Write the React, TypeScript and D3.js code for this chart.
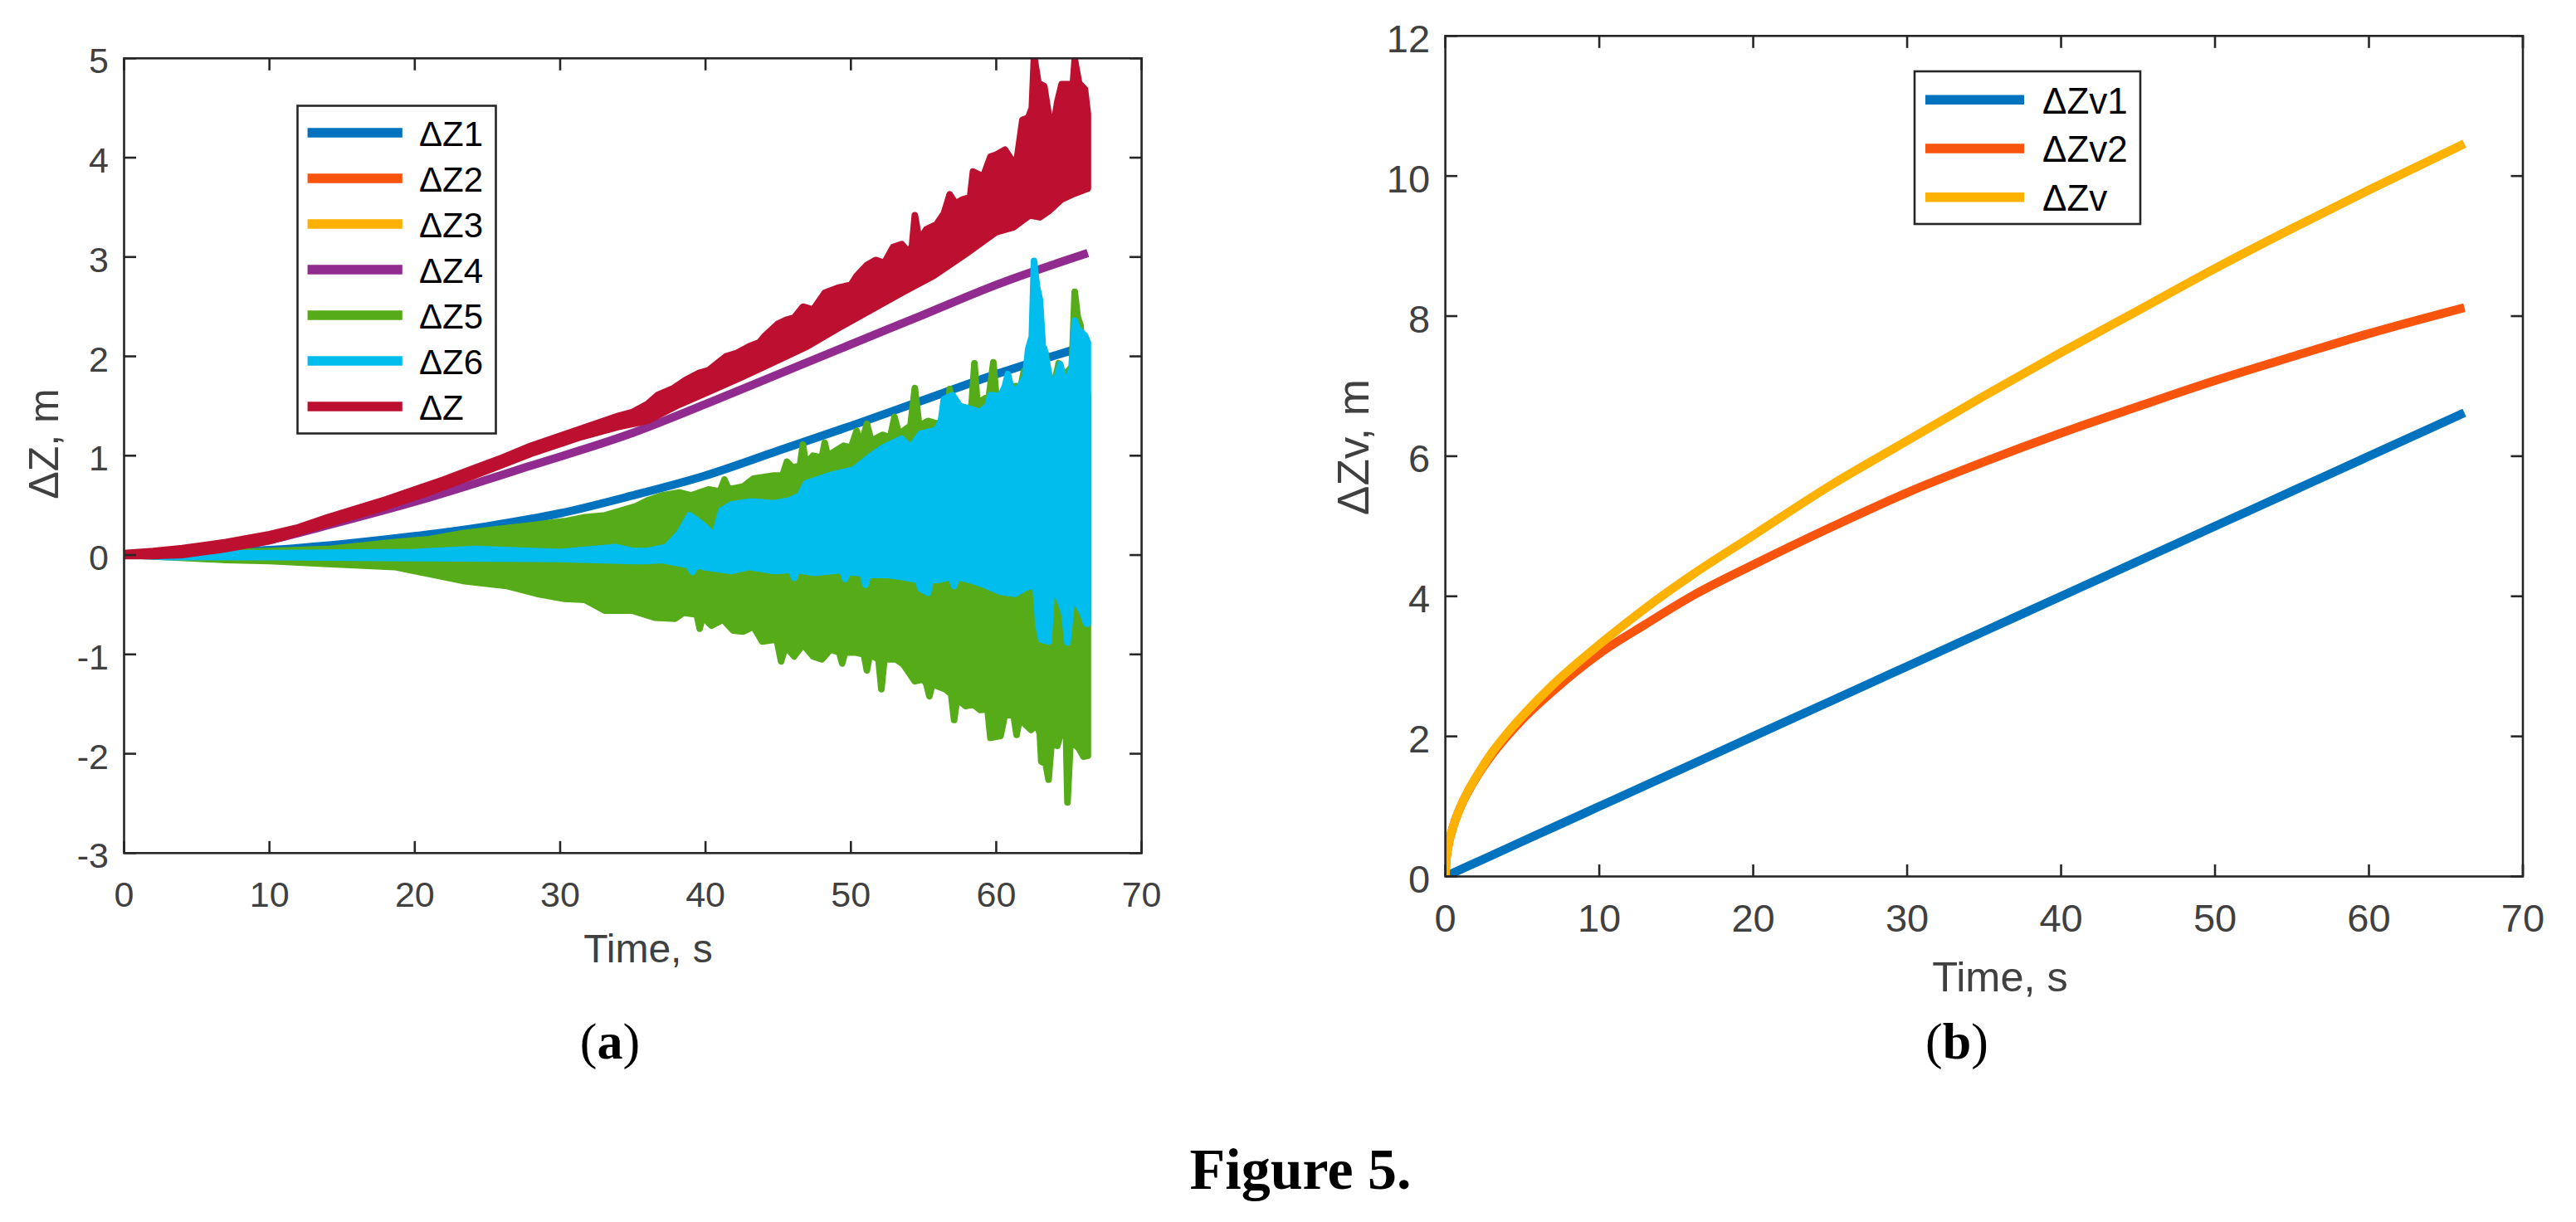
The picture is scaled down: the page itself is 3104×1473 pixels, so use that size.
import React from "react";
import * as d3 from "d3";

// ---------- DATA ----------
// (a) smooth series
const dz1T = [0, 5, 10, 15, 20, 25, 30, 35, 40, 45, 50, 55, 60, 66.3];
const dz1V = [0, 0.02, 0.05, 0.11, 0.19, 0.29, 0.42, 0.6, 0.8, 1.05, 1.3, 1.56, 1.82, 2.11];
const dz2T = [0, 66.3];
const dz2V = [0, 0];
const dz3T = [0, 66.3];
const dz3V = [0, 0];
const dz4T = [0, 5, 10, 14, 21, 28, 35, 40, 45, 50, 55, 60, 66.3];
const dz4V = [0, 0.04, 0.15, 0.3, 0.58, 0.9, 1.23, 1.52, 1.82, 2.12, 2.42, 2.72, 3.04];

// (a) noisy series: upper / lower envelopes [time, value]
const dz5Hi: [number, number][] = [[0,0],[3,0.01],[7,0.03],[10,0.04],[14,0.06],[18.6,0.13],[21,0.16],[23.3,0.22],[25.6,0.26],[28,0.3],[30.3,0.34],[31.7,0.38],[33.1,0.4],[35.2,0.49],[36,0.55],[37,0.6],[38.2,0.63],[39,0.6],[40.2,0.66],[41,0.64],[41.3,0.76],[41.6,0.66],[42.6,0.69],[43.3,0.77],[44.7,0.8],[45.3,0.8],[45.6,0.94],[46.0,0.88],[46.5,0.9],[46.7,1.11],[46.9,0.92],[47.4,1.0],[48.0,0.98],[48.2,1.13],[48.4,1.0],[49.5,1.1],[50.0,1.08],[50.4,1.25],[50.7,1.1],[51.1,1.32],[51.4,1.15],[52.2,1.21],[52.7,1.18],[53.0,1.39],[53.3,1.22],[54.1,1.3],[54.4,1.68],[54.7,1.3],[55.3,1.35],[56.0,1.32],[56.6,1.4],[56.8,1.67],[57.0,1.45],[58.0,1.47],[58.3,1.5],[58.5,1.93],[58.7,1.53],[59.5,1.6],[59.8,1.94],[60.0,1.6],[60.7,1.56],[61.3,1.7],[61.7,1.7],[61.9,1.85],[62.4,1.75],[63.0,1.8],[63.2,1.75],[63.4,2.03],[63.6,1.75],[64.1,1.8],[64.3,1.93],[64.5,1.8],[65.0,1.86],[65.2,1.9],[65.4,2.65],[65.6,2.4],[65.8,2.31],[66.0,1.9],[66.3,1.6]];
const dz5Lo: [number, number][] = [[0,0],[3,-0.02],[7,-0.05],[10,-0.06],[14,-0.09],[18.6,-0.12],[21,-0.19],[23.3,-0.26],[26.3,-0.31],[28.4,-0.39],[30.3,-0.44],[31.7,-0.45],[33.1,-0.56],[35,-0.56],[36.5,-0.63],[37.9,-0.64],[38.5,-0.58],[39.4,-0.6],[39.6,-0.74],[39.8,-0.62],[40.4,-0.71],[41.2,-0.65],[41.9,-0.76],[42.6,-0.77],[43.3,-0.72],[43.9,-0.87],[44.9,-0.85],[45.2,-1.07],[45.5,-0.92],[46.1,-1.02],[46.7,-0.9],[47.4,-1.02],[48.0,-1.05],[48.6,-0.95],[49.2,-0.98],[49.4,-1.09],[49.6,-0.98],[50.3,-0.98],[50.9,-1.0],[51.1,-1.16],[51.3,-1.0],[51.9,-1.05],[52.1,-1.35],[52.3,-1.05],[53.1,-1.05],[53.6,-1.1],[54.4,-1.27],[55.0,-1.25],[55.2,-1.3],[55.4,-1.42],[55.6,-1.3],[56.5,-1.35],[56.9,-1.4],[57.1,-1.66],[57.3,-1.45],[57.9,-1.52],[58.4,-1.5],[58.9,-1.56],[59.4,-1.55],[59.6,-1.84],[60.3,-1.82],[60.6,-1.6],[61.2,-1.62],[61.4,-1.81],[61.6,-1.65],[62.4,-1.76],[62.8,-1.7],[63.0,-1.8],[63.1,-2.08],[63.4,-2.1],[63.6,-2.26],[63.8,-1.9],[64.2,-1.92],[64.6,-1.7],[64.8,-1.8],[64.9,-2.49],[65.1,-1.9],[65.3,-1.89],[65.7,-1.95],[66.0,-2.03],[66.3,-2.02]];
const dz6Hi: [number, number][] = [[0,0],[3,0.02],[10,0.02],[20,0.03],[24.2,0.06],[30,0.03],[33.8,0.08],[35,0.04],[36,0.04],[37.3,0.08],[38.2,0.22],[38.9,0.4],[39.4,0.35],[40.0,0.28],[40.6,0.19],[41.1,0.45],[41.8,0.51],[43.2,0.54],[44.7,0.52],[45.8,0.55],[46.5,0.6],[46.9,0.72],[48.5,0.8],[50.2,0.86],[51.3,0.99],[52.2,1.08],[53.5,1.17],[54.1,1.08],[54.8,1.22],[55.9,1.26],[56.2,1.35],[56.4,1.57],[57.0,1.61],[57.5,1.5],[58.9,1.44],[59.4,1.5],[59.6,1.61],[60.3,1.6],[60.6,1.7],[60.8,1.82],[61.0,1.7],[61.4,1.64],[62.0,1.8],[62.2,2.07],[62.45,2.2],[62.6,2.96],[62.8,2.7],[63.0,2.57],[63.2,2.1],[63.3,2.08],[63.9,1.61],[64.2,1.8],[64.4,1.92],[64.7,1.75],[65.0,1.78],[65.2,1.9],[65.4,2.36],[65.6,2.28],[65.8,2.25],[66.1,2.21],[66.3,2.14]];
const dz6Lo: [number, number][] = [[0,0],[3,-0.02],[10,-0.02],[20,-0.03],[30,-0.04],[35,-0.06],[36,-0.06],[37,-0.05],[38.8,-0.1],[39.1,-0.17],[39.4,-0.1],[39.9,-0.12],[41.8,-0.16],[43,-0.12],[44.7,-0.16],[45.9,-0.15],[46.1,-0.23],[46.3,-0.15],[47.5,-0.18],[49.4,-0.15],[49.6,-0.24],[49.8,-0.16],[50.3,-0.18],[50.8,-0.18],[51.0,-0.3],[51.2,-0.2],[52.5,-0.2],[53.5,-0.22],[54.6,-0.25],[54.8,-0.34],[55.3,-0.38],[55.5,-0.25],[56,-0.25],[56.9,-0.22],[57.1,-0.31],[57.3,-0.22],[58.4,-0.26],[59.2,-0.3],[60.3,-0.37],[61.3,-0.39],[62.0,-0.33],[62.7,-0.3],[62.9,-0.7],[63.1,-0.85],[63.6,-0.87],[63.8,-0.4],[64.1,-0.35],[64.5,-0.5],[64.7,-0.6],[64.9,-0.88],[65.1,-0.6],[65.2,-0.45],[65.6,-0.49],[66.0,-0.6],[66.2,-0.69],[66.3,-0.69]];
const dzHi: [number, number][] = [[0,0.02],[2,0.04],[4,0.07],[7,0.13],[10,0.21],[12,0.28],[14,0.38],[16,0.47],[18,0.56],[20,0.66],[22,0.76],[24,0.87],[26,0.98],[28,1.1],[30,1.2],[32,1.3],[34,1.4],[35,1.44],[36,1.52],[36.7,1.61],[37.8,1.68],[38.6,1.76],[39.5,1.83],[40.2,1.86],[41.4,2.0],[42.1,2.03],[43.0,2.1],[43.7,2.14],[44.1,2.21],[45.0,2.33],[45.6,2.37],[46.1,2.39],[46.7,2.5],[47.4,2.47],[48.2,2.64],[49.1,2.69],[50.0,2.72],[50.4,2.81],[51.1,2.92],[51.7,2.97],[52.3,2.94],[52.9,3.1],[53.5,3.13],[53.9,3.06],[54.2,3.1],[54.4,3.42],[54.7,3.17],[55.2,3.28],[55.9,3.33],[56.4,3.44],[56.8,3.63],[57.2,3.54],[57.7,3.58],[58.2,3.6],[58.4,3.86],[59.1,3.81],[59.6,4.01],[60.0,4.03],[60.6,4.08],[61.0,3.99],[61.4,3.96],[61.8,4.38],[62.2,4.4],[62.45,4.5],[62.6,5.03],[62.9,4.75],[63.3,4.72],[63.6,4.44],[63.9,4.28],[64.2,4.56],[64.5,4.74],[65.0,4.74],[65.2,4.6],[65.4,4.99],[65.7,4.75],[66.1,4.69],[66.3,4.44]];
const dzLo: [number, number][] = [[0,-0.01],[2,-0.01],[4,0.0],[7,0.06],[10,0.14],[14,0.31],[17.5,0.46],[21,0.63],[24.5,0.82],[28,1.02],[31.5,1.19],[34,1.29],[36,1.35],[38,1.5],[40.35,1.65],[42.5,1.79],[44.7,1.94],[47,2.1],[49.1,2.28],[51.3,2.46],[53.5,2.64],[55.7,2.81],[57.9,3.03],[60.0,3.25],[61.2,3.3],[62.3,3.42],[63.0,3.4],[63.6,3.46],[64.5,3.58],[65.4,3.64],[66.3,3.69]];

// (b) series
const bT = [0, 0.05, 0.2, 0.45, 1, 1.5, 2, 3, 4, 5, 7, 10, 13, 16, 20, 25, 30, 35, 40, 45, 50, 55, 60, 66.2];
const zv1V = [0, 0.005, 0.02, 0.045, 0.1, 0.15, 0.2, 0.3, 0.4, 0.5, 0.7, 1.0, 1.3, 1.6, 2.0, 2.5, 3.0, 3.5, 4.0, 4.5, 5.0, 5.5, 6.0, 6.62];
const zv2V = [0, 0.22, 0.45, 0.67, 1.0, 1.22, 1.41, 1.73, 2.0, 2.24, 2.65, 3.18, 3.6, 4.0, 4.45, 4.98, 5.48, 5.92, 6.33, 6.71, 7.08, 7.42, 7.75, 8.12];
const zvV = [0, 0.22, 0.45, 0.67, 1.0, 1.23, 1.42, 1.76, 2.04, 2.29, 2.74, 3.31, 3.83, 4.3, 4.87, 5.58, 6.22, 6.86, 7.48, 8.08, 8.68, 9.25, 9.8, 10.46];

// ticks / labels
const xTicks = [0, 10, 20, 30, 40, 50, 60, 70];
const yTicksA = [-3, -2, -1, 0, 1, 2, 3, 4, 5];
const yTicksB = [0, 2, 4, 6, 8, 10, 12];
const legendA = ["\u0394Z1", "\u0394Z2", "\u0394Z3", "\u0394Z4", "\u0394Z5", "\u0394Z6", "\u0394Z"];
const legendB = ["\u0394Zv1", "\u0394Zv2", "\u0394Zv"];

// ---------- STYLE ----------
const C = {
  blue: "#0072BE",
  orange: "#F8540E",
  yellow: "#FDB100",
  purple: "#912B8F",
  green: "#56AC18",
  cyan: "#00BDED",
  red: "#BD1030",
};
const colorsA = [C.blue, C.orange, C.yellow, C.purple, C.green, C.cyan, C.red];
const colorsB = [C.blue, C.orange, C.yellow];
const SANS = '"Liberation Sans", Arial, Helvetica, sans-serif';
const SERIF = '"Liberation Serif", "Times New Roman", serif';
const AX = "#262626";
const TXT = "#404040";

const xA = d3.scaleLinear().domain([0, 70]).range([149.5, 1375.6]);
const yA = d3.scaleLinear().domain([-3, 5]).range([1028.3, 70.3]);
const xB = d3.scaleLinear().domain([0, 70]).range([1741.6, 3040]);
const yB = d3.scaleLinear().domain([0, 12]).range([1056.5, 43.3]);

function smooth(T: number[], V: number[], x: any, y: any) {
  const pts = T.map((t, i) => [t, V[i]] as [number, number]);
  return d3.line<[number, number]>().x(d => x(d[0])).y(d => y(d[1])).curve(d3.curveMonotoneX)(pts) || "";
}
function band(hi: [number, number][], lo: [number, number][], x: any, y: any) {
  const pts = [...hi, ...lo.slice().reverse()];
  return (d3.line<[number, number]>().x(d => x(d[0])).y(d => y(d[1]))(pts) || "") + "Z";
}

function Frame({ x, y, yTicks, fs, xLabBase, yLabOff, tick }: any) {
  const [x0, x1] = x.range();
  const [y0, y1] = y.range();
  return (
    <g>
      <rect x={x0} y={y1} width={x1 - x0} height={y0 - y1} fill="none" stroke={AX} strokeWidth={2.6} />
      {xTicks.map(t => (
        <g key={"xt" + t}>
          <line x1={x(t)} x2={x(t)} y1={y0} y2={y0 - tick} stroke={AX} strokeWidth={2.6} />
          <line x1={x(t)} x2={x(t)} y1={y1} y2={y1 + tick} stroke={AX} strokeWidth={2.6} />
          <text x={x(t)} y={xLabBase} textAnchor="middle" fontSize={fs} fill={TXT} fontFamily={SANS}>{t}</text>
        </g>
      ))}
      {yTicks.map((t: number) => (
        <g key={"yt" + t}>
          <line x1={x0} x2={x0 + tick} y1={y(t)} y2={y(t)} stroke={AX} strokeWidth={2.6} />
          <line x1={x1} x2={x1 - tick} y1={y(t)} y2={y(t)} stroke={AX} strokeWidth={2.6} />
          <text x={x0 - 18.5} y={y(t) + yLabOff} textAnchor="end" fontSize={fs} fill={TXT} fontFamily={SANS}>{t}</text>
        </g>
      ))}
    </g>
  );
}

function Legend({ x0, y0, x1, y1, rows, names, colors, lx0, lx1, tx, fs, dy }: any) {
  return (
    <g>
      <rect x={x0} y={y0} width={x1 - x0} height={y1 - y0} fill="#fff" stroke={AX} strokeWidth={2.6} />
      {names.map((n: string, i: number) => (
        <g key={n}>
          <line x1={lx0} x2={lx1} y1={rows[i]} y2={rows[i]} stroke={colors[i]} strokeWidth={11.5} />
          <text x={tx} y={rows[i] + dy} fontSize={fs} fill="#000" fontFamily={SANS}>{n}</text>
        </g>
      ))}
    </g>
  );
}

export default function App() {
  const [ax0, ax1] = xA.range();
  const [ay0, ay1] = yA.range();
  const [bx0, bx1] = xB.range();
  const [by0, by1] = yB.range();
  const lw = 10;
  const bw = 8;
  const rowsA = legendA.map((_, i) => 160 + 55 * i);
  const rowsB = legendB.map((_, i) => 120.2 + 58.75 * i);
  return (
    <svg width={3104} height={1473} viewBox="0 0 3104 1473"
      style={{ position: "absolute", left: 0, top: 0, display: "block", background: "#fff" }}>
      <defs>
        <clipPath id="clipA"><rect x={ax0} y={ay1} width={ax1 - ax0} height={ay0 - ay1} /></clipPath>
        <clipPath id="clipB"><rect x={bx0} y={by1} width={bx1 - bx0} height={by0 - by1} /></clipPath>
      </defs>
      <rect x={0} y={0} width={3104} height={1473} fill="#fff" />

      {/* ----- (a) ----- */}
      <g clipPath="url(#clipA)">
        <path d={smooth(dz1T, dz1V, xA, yA)} fill="none" stroke={C.blue} strokeWidth={lw} />
        <path d={smooth(dz2T, dz2V, xA, yA)} fill="none" stroke={C.orange} strokeWidth={lw} />
        <path d={smooth(dz3T, dz3V, xA, yA)} fill="none" stroke={C.yellow} strokeWidth={lw} />
        <path d={smooth(dz4T, dz4V, xA, yA)} fill="none" stroke={C.purple} strokeWidth={lw} />
        <path d={band(dz5Hi, dz5Lo, xA, yA)} fill={C.green} stroke={C.green} strokeWidth={bw} strokeLinejoin="round" />
        <path d={band(dz6Hi, dz6Lo, xA, yA)} fill={C.cyan} stroke={C.cyan} strokeWidth={bw} strokeLinejoin="round" />
        <path d={band(dzHi, dzLo, xA, yA)} fill={C.red} stroke={C.red} strokeWidth={bw} strokeLinejoin="round" />
      </g>
      <Frame x={xA} y={yA} yTicks={yTicksA} fs={43} xLabBase={1093} yLabOff={18} tick={14.5} />
      <Legend x0={358.5} y0={127.5} x1={597.5} y1={522.5} rows={rowsA} names={legendA} colors={colorsA}
        lx0={370.6} lx1={484.8} tx={505} fs={42} dy={15.5} />
      <text x={781} y={1160} textAnchor="middle" fontSize={48} fill={TXT} fontFamily={SANS}>Time, s</text>
      <text transform="translate(70,535) rotate(-90)" textAnchor="middle" fontSize={50} fill={TXT} fontFamily={SANS}>{"\u0394Z, m"}</text>
      <text x={735} y={1276} textAnchor="middle" fontSize={62} fill="#000" fontFamily={SERIF}>(<tspan fontWeight="bold">a</tspan>)</text>

      {/* ----- (b) ----- */}
      <g clipPath="url(#clipB)">
        <path d={smooth(bT, zv1V, xB, yB)} fill="none" stroke={C.blue} strokeWidth={10.5} />
        <path d={smooth(bT, zv2V, xB, yB)} fill="none" stroke={C.orange} strokeWidth={10.5} />
        <path d={smooth(bT, zvV, xB, yB)} fill="none" stroke={C.yellow} strokeWidth={10.5} />
      </g>
      <Frame x={xB} y={yB} yTicks={yTicksB} fs={47} xLabBase={1123} yLabOff={19.5} tick={14.5} />
      <Legend x0={2307} y0={86} x1={2579} y1={270} rows={rowsB} names={legendB} colors={colorsB}
        lx0={2320} lx1={2439} tx={2461} fs={44} dy={16.5} />
      <text x={2410} y={1195} textAnchor="middle" fontSize={50.5} fill={TXT} fontFamily={SANS}>Time, s</text>
      <text transform="translate(1649,539) rotate(-90)" textAnchor="middle" fontSize={53} fill={TXT} fontFamily={SANS}>{"\u0394Zv, m"}</text>
      <text x={2358} y={1276} textAnchor="middle" fontSize={62} fill="#000" fontFamily={SERIF}>(<tspan fontWeight="bold">b</tspan>)</text>

      {/* caption */}
      <text x={1567} y={1433} textAnchor="middle" fontSize={70} fontWeight="bold" fill="#000" fontFamily={SERIF}>Figure 5.</text>
    </svg>
  );
}
